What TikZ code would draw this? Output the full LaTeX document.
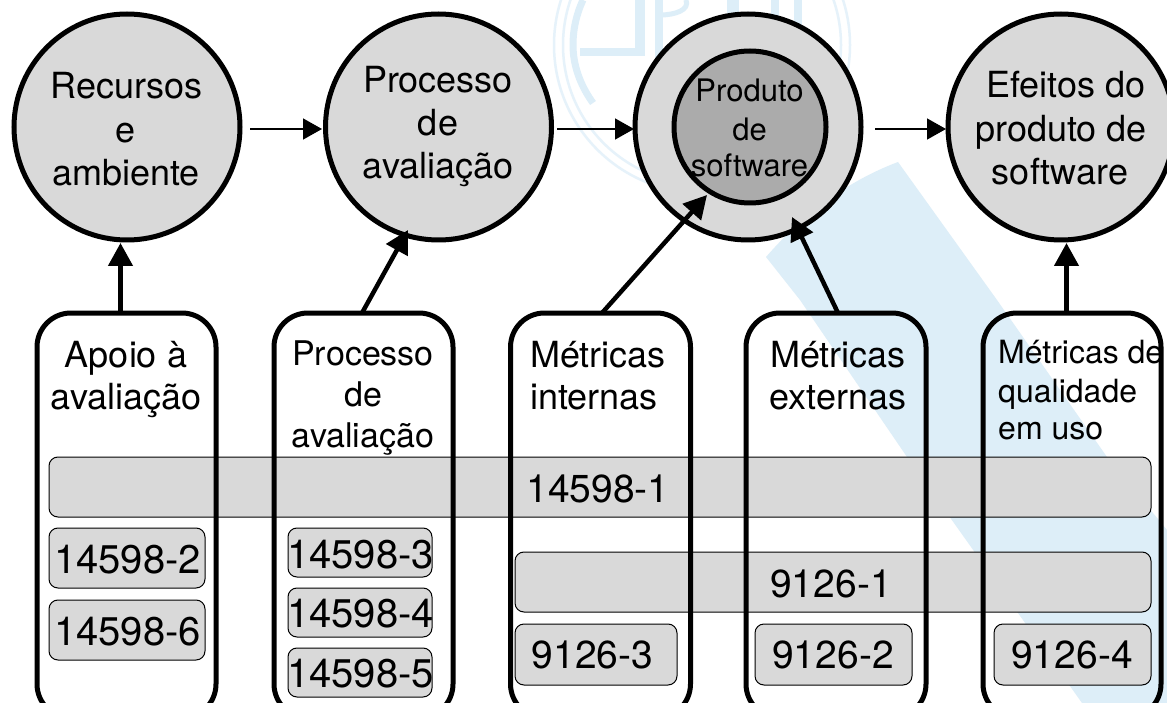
\documentclass[tikz,border=0pt]{standalone}
\usepackage{fontspec}
\setmainfont{TeX Gyre Heros}
\usetikzlibrary{arrows.meta}
\definecolor{wm}{HTML}{DDEEF8}
\definecolor{wmpale}{HTML}{E6F2FA}
\definecolor{fillgray}{HTML}{D9D9D9}
\definecolor{darkgray}{HTML}{ABABAB}
\newcommand{\fs}[1]{\fontsize{#1}{#1}\selectfont}
\tikzset{
  x=1pt,y=-1pt,
  ball/.style={circle,draw=black,line width=5pt,fill=fillgray,inner sep=0pt,outer sep=0pt,minimum size=226pt},
  inball/.style={circle,draw=black,line width=5pt,fill=darkgray,inner sep=0pt,outer sep=0pt,minimum size=152pt},
  column/.style={rectangle,rounded corners=34pt,draw=black,line width=5pt,inner sep=0pt,outer sep=0pt,minimum height=405pt,anchor=north west},
  band/.style={rectangle,rounded corners=9pt,draw=black,line width=1pt,fill=fillgray,inner sep=0pt,outer sep=0pt,anchor=north west},
  lbl/.style={inner sep=0pt,align=center,anchor=base,text=black},
  thin arrow/.style={line width=1.4pt,-{Triangle[length=19pt,width=21pt]}},
  thick arrow/.style={line width=4.5pt,-{Triangle[length=23pt,width=24pt]}}
}
\begin{document}
\begin{tikzpicture}
\useasboundingbox (0,0) rectangle (1167,703);
\clip (0,0) rectangle (1167,703);
\fill[white] (0,0) rectangle (1167,703);
% watermark
\fill[wm] (766,257) .. controls (805,212) and (850,180) .. (898,162) -- (997,300) -- (1107,457) -- (1167,530) -- (1167,703) -- (1082,703) -- (907,457) -- (800,300) -- cycle;
\draw[wmpale,line width=2.5pt] (702,45) circle[radius=148];
\draw[wmpale,line width=2.5pt] (702,45) circle[radius=139];
\draw[wm,line width=7pt] (593,103) .. controls (580,85) and (573,65) .. (573,45) .. controls (573,30) and (576,15) .. (583,0);
\draw[wm,line width=8pt] (580,52) -- (637,52);
\draw[wm,line width=10pt] (640,0) -- (640,56);
\draw[wm,line width=8pt] (659,0) -- (659,70);
\draw[wm,line width=5pt] (660,15) .. controls (675,15) and (690,10) .. (686,0);
\draw[wm,line width=12pt] (733,0) -- (733,20);
\draw[wm,line width=8pt] (775,0) -- (775,25);
\draw[wm,line width=8pt] (798,0) -- (798,30);
% circles
\node[ball] (c1) at (127,127) {};
\node[ball] (c2) at (438.5,127) {};
\node[ball] (c3) at (748,127) {};
\node[inball] (c3i) at (750,127) {};
\node[ball] (c4) at (1061,127) {};
\node[lbl,font=\fs{36}] (t1a) at (126.5,99) {Recursos};
\node[lbl,font=\fs{36}] (t1b) at (126,143) {e};
\node[lbl,font=\fs{36}] (t1c) at (126,186) {ambiente};
\node[lbl,font=\fs{36}] (t2a) at (438,93) {Processo};
\node[lbl,font=\fs{36}] (t2b) at (438,136) {de};
\node[lbl,font=\fs{36}] (t2c) at (438,179) {avaliação};
\node[lbl,font=\fs{31}] (t3a) at (749.5,102) {Produto};
\node[lbl,font=\fs{31}] (t3b) at (749.5,141) {de};
\node[lbl,font=\fs{31}] (t3c) at (749.5,177) {software};
\node[lbl,font=\fs{36}] (t4a) at (1066,98) {Efeitos do};
\node[lbl,font=\fs{36}] (t4b) at (1061,142) {produto de};
\node[lbl,font=\fs{36}] (t4c) at (1060,185) {software};
% bands
\node[band,minimum width=1102pt,minimum height=60pt] (b1) at (49,457) {};
\node[band,minimum width=636pt,minimum height=60pt] (b2) at (515,552) {};
\node[band,minimum width=156pt,minimum height=60pt] (s2) at (49,528) {};
\node[band,minimum width=156pt,minimum height=60pt] (s6) at (49,600) {};
\node[band,minimum width=144pt,minimum height=49pt] (s3) at (288,528) {};
\node[band,minimum width=144pt,minimum height=49pt] (s4) at (288,588) {};
\node[band,minimum width=144pt,minimum height=49pt] (s5) at (288,648) {};
\node[band,minimum width=162pt,minimum height=61pt] (m3) at (515,624) {};
\node[band,minimum width=157pt,minimum height=61pt] (m2) at (755,624) {};
\node[band,minimum width=157pt,minimum height=61pt] (m4) at (994,624) {};
% columns
\node[column,minimum width=179pt] (k1) at (37,313) {};
\node[column,minimum width=179pt] (k2) at (274,313) {};
\node[column,minimum width=180pt] (k3) at (510.5,313) {};
\node[column,minimum width=180pt] (k4) at (746,313) {};
\node[column,minimum width=178pt] (k5) at (983,313) {};
% column labels
\node[lbl,font=\fs{36}] (l1a) at (126,367) {Apoio à};
\node[lbl,font=\fs{36}] (l1b) at (126,409) {avaliação};
\node[lbl,font=\fs{34}] (l2a) at (363,365) {Processo};
\node[lbl,font=\fs{34}] (l2b) at (363,406) {de};
\node[lbl,font=\fs{34}] (l2c) at (363,447) {avaliação};
\node[lbl,font=\fs{36}] (l3a) at (598,367) {Métricas};
\node[lbl,font=\fs{36}] (l3b) at (594,409) {internas};
\node[lbl,font=\fs{36}] (l4a) at (838,367) {Métricas};
\node[lbl,font=\fs{36}] (l4b) at (838,409) {externas};
\node[lbl,font=\fs{32},anchor=base west] (l5a) at (998,363) {Métricas de};
\node[lbl,font=\fs{32},anchor=base west] (l5b) at (998,402) {qualidade};
\node[lbl,font=\fs{32},anchor=base west] (l5c) at (998,439) {em uso};
% band labels
\node[lbl,font=\fs{39}] (n1) at (598,502) {14598-1};
\node[lbl,font=\fs{40}] (n2) at (127.5,573) {14598-2};
\node[lbl,font=\fs{40}] (n6) at (127.5,645) {14598-6};
\node[lbl,font=\fs{40}] (n3) at (360.5,568) {14598-3};
\node[lbl,font=\fs{40}] (n4) at (360.5,627) {14598-4};
\node[lbl,font=\fs{40}] (n5) at (360.5,687) {14598-5};
\node[lbl,font=\fs{39}] (n91) at (831,597) {9126-1};
\node[lbl,font=\fs{39}] (n93) at (592.5,668) {9126-3};
\node[lbl,font=\fs{39}] (n92) at (833,668) {9126-2};
\node[lbl,font=\fs{39}] (n94) at (1072,668) {9126-4};
% connector ends
\coordinate (f1) at (250,129);
\coordinate (f2) at (557,129);
\coordinate (f3) at (875,129);
\coordinate (g1) at (120.5,313);
\coordinate (g2) at (362,313);
\coordinate (g3) at (602,313);
\coordinate (g4) at (838,313);
\coordinate (g5) at (1066.5,313);
\coordinate (h1) at (120.5,243);
\coordinate (h2) at (408,230);
\coordinate (h3) at (707,195);
\coordinate (h4) at (792,217);
\coordinate (h5) at (1066.5,243);
\coordinate (e1) at (322,129);
\coordinate (e2) at (634,129);
\coordinate (e3) at (946,129);
\draw[thin arrow] (f1) -- (e1);
\draw[thin arrow] (f2) -- (e2);
\draw[thin arrow] (f3) -- (e3);
\draw[thick arrow] (g1) -- (h1);
\draw[thick arrow] (g2) -- (h2);
\draw[thick arrow] (g3) -- (h3);
\draw[thick arrow] (g4) -- (h4);
\draw[thick arrow] (g5) -- (h5);
\end{tikzpicture}
\end{document}
